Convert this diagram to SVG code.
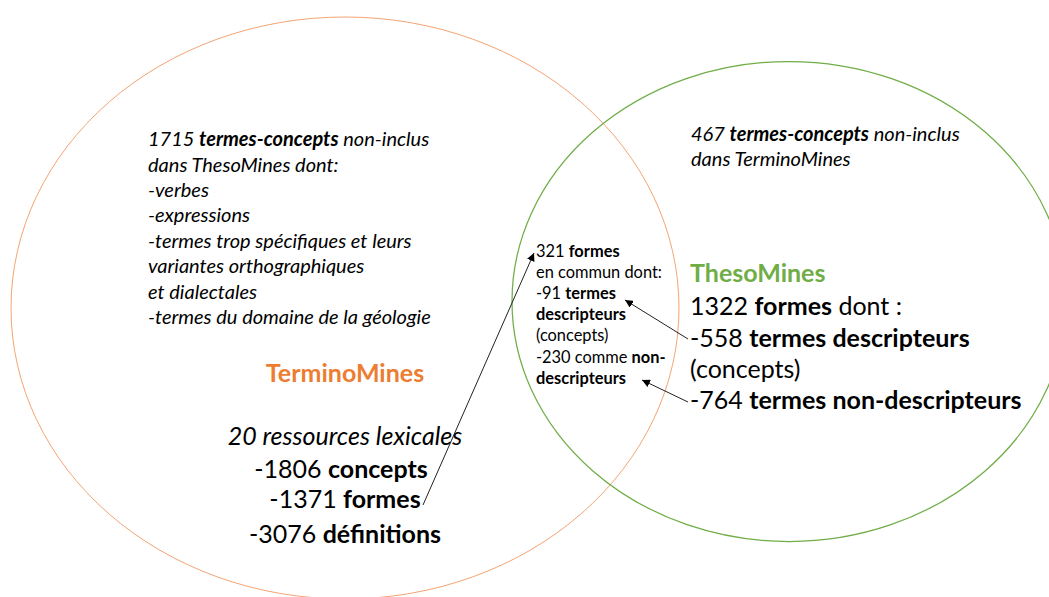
<svg xmlns="http://www.w3.org/2000/svg" width="1049" height="597" viewBox="0 0 1049 597">
<style>
text{font-family:Lato,"Liberation Sans",sans-serif;fill:#000}
.it{font-style:italic}
.b{font-weight:bold}
.s17{font-size:20px}
.s14{font-size:16.4px}
.s22{font-size:25px}
.conn{stroke:#222;stroke-width:1;fill:none;marker-end:url(#ah)}
</style>
<defs>
<marker id="ah" viewBox="0 0 10 10" refX="10" refY="5" markerWidth="8" markerHeight="8" orient="auto" markerUnits="userSpaceOnUse">
<path d="M0,0 L10,5 L0,10 z" fill="#000"/>
</marker>
</defs>
<rect width="1049" height="597" fill="#fff"/>
<g id="terminomines">
<ellipse cx="345" cy="308" rx="334" ry="291" fill="none" stroke="#F08C4E" stroke-width="0.8"/>
<text class="s17 it" x="148" y="146">1715 <tspan class="b">termes-concepts</tspan> non-inclus</text>
<text class="s17 it" x="148" y="171.5">dans ThesoMines dont:</text>
<text class="s17 it" x="148" y="197">-verbes</text>
<text class="s17 it" x="148" y="222">-expressions</text>
<text class="s17 it" x="148" y="248">-termes trop spécifiques et leurs</text>
<text class="s17 it" x="148" y="273">variantes orthographiques</text>
<text class="s17 it" x="148" y="298.5">et dialectales</text>
<text class="s17 it" x="148" y="324">-termes du domaine de la géologie</text>
<text class="s22 b" x="345" y="382" text-anchor="middle" style="fill:#ED7D31">TerminoMines</text>
<text class="s22 it" x="345" y="445" text-anchor="middle">20 ressources lexicales</text>
<text class="s22" x="341" y="478" text-anchor="middle">-1806 <tspan class="b">concepts</tspan></text>
<text class="s22" x="345" y="508" text-anchor="middle">-1371 <tspan class="b">formes</tspan></text>
<text class="s22" x="345" y="543" text-anchor="middle">-3076 <tspan class="b">définitions</tspan></text>
</g>
<g id="thesomines">
<ellipse cx="789" cy="301.5" rx="277" ry="240" fill="none" stroke="#70AD47" stroke-width="1.25"/>
<text class="s17 it" x="691" y="141">467 <tspan class="b">termes-concepts</tspan> non-inclus</text>
<text class="s17 it" x="691" y="166">dans TerminoMines</text>
<text class="s22 b" x="690" y="282" style="fill:#70AD47">ThesoMines</text>
<text class="s22" x="690" y="315">1322 <tspan class="b">formes</tspan> dont :</text>
<text class="s22" x="690" y="347">-558 <tspan class="b">termes descripteurs</tspan></text>
<text class="s22" x="690" y="378">(concepts)</text>
<text class="s22" x="690" y="409">-764 <tspan class="b">termes non-descripteurs</tspan></text>
</g>
<g id="intersection">
<text class="s14" x="536" y="257">321 <tspan class="b">formes</tspan></text>
<text class="s14" x="536" y="278">en commun dont:</text>
<text class="s14" x="536" y="299">-91 <tspan class="b">termes</tspan></text>
<text class="s14 b" x="536" y="320">descripteurs</text>
<text class="s14" x="536" y="341">(concepts)</text>
<text class="s14" x="536" y="363">-230 comme <tspan class="b">non-</tspan></text>
<text class="s14 b" x="536" y="384">descripteurs</text>
</g>
<g id="connectors">
<line class="conn" x1="423" y1="505" x2="534" y2="253"/>
<line class="conn" x1="688" y1="339" x2="625" y2="300"/>
<line class="conn" x1="688" y1="402" x2="642" y2="380"/>
</g>
</svg>
